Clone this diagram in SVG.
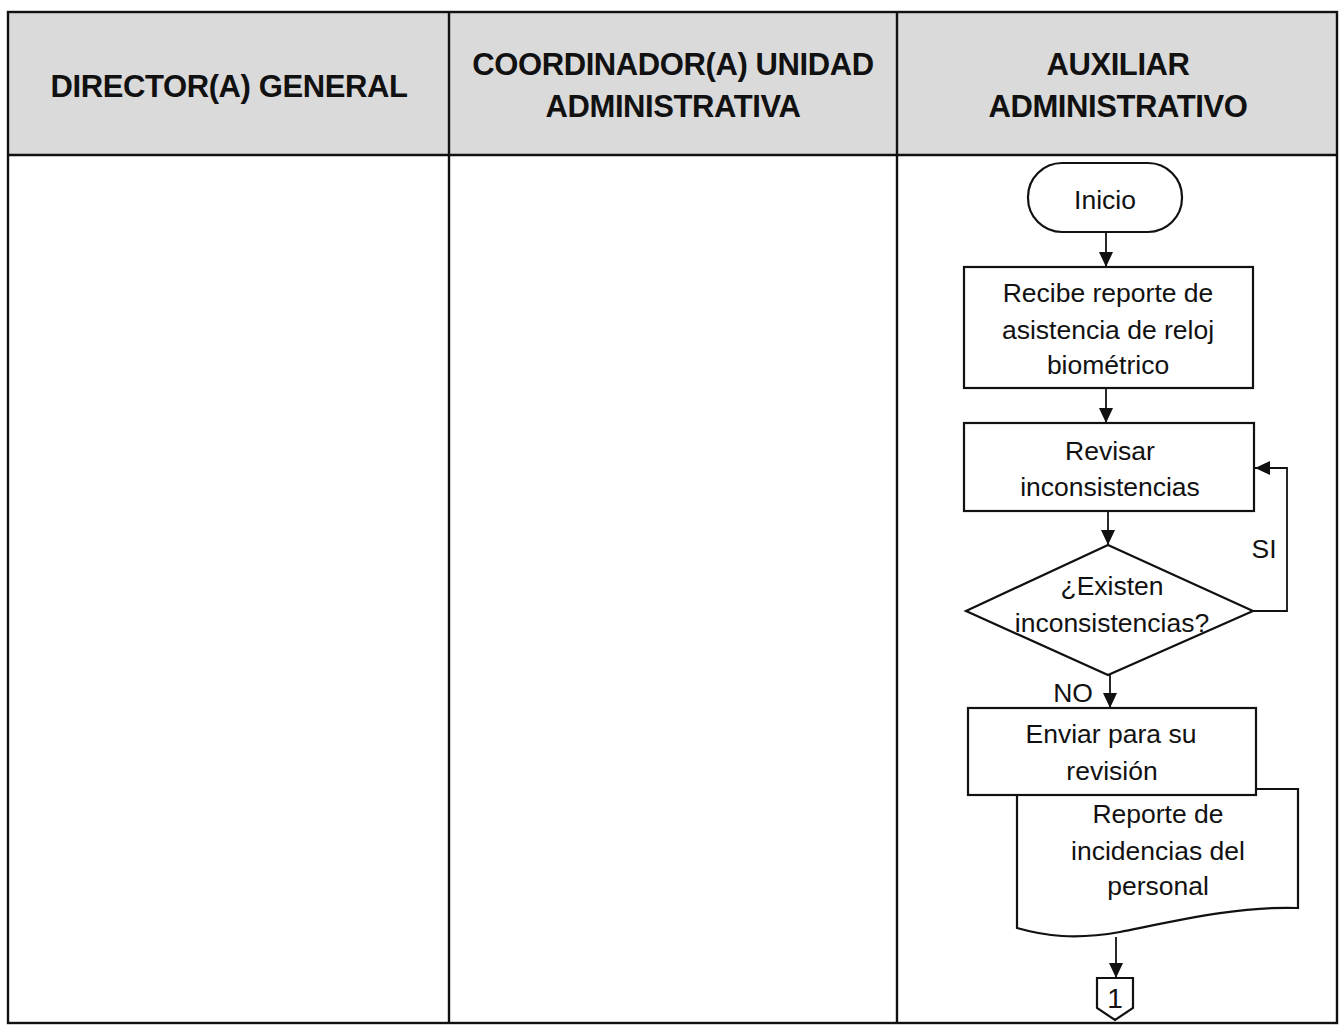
<svg xmlns="http://www.w3.org/2000/svg" width="1344" height="1025" viewBox="0 0 1344 1025">
<style>
.hd{font-family:"Liberation Sans",Arial,sans-serif;font-weight:bold;font-size:31px;letter-spacing:-0.4px;fill:#111;text-anchor:middle}
.t{font-family:"Liberation Sans",Arial,sans-serif;font-size:26.5px;fill:#111;text-anchor:middle}
.sh{fill:#fff;stroke:#111;stroke-width:2.2}
.ln{fill:none;stroke:#111;stroke-width:1.8}
.grid{fill:none;stroke:#111;stroke-width:2.4}
</style>
<defs>
<marker id="ah" markerUnits="userSpaceOnUse" markerWidth="16" markerHeight="16" refX="15" refY="7" orient="auto">
<path d="M0,0 L15,7 L0,14 Z" fill="#111"/>
</marker>
</defs>
<rect width="1344" height="1025" fill="#fff"/>
<g id="table">
<rect x="8" y="12" width="1329" height="143" fill="#dadada"/>
<rect x="8" y="12" width="1329" height="1011" class="grid"/>
<line x1="8" y1="155" x2="1337" y2="155" class="grid"/>
<line x1="449" y1="12" x2="449" y2="1023" class="grid"/>
<line x1="897" y1="12" x2="897" y2="1023" class="grid"/>
<text class="hd" x="229" y="97">DIRECTOR(A) GENERAL</text>
<text class="hd" x="673" y="75">COORDINADOR(A) UNIDAD</text>
<text class="hd" x="673" y="117">ADMINISTRATIVA</text>
<text class="hd" x="1118" y="75">AUXILIAR</text>
<text class="hd" x="1118" y="117">ADMINISTRATIVO</text>
</g>
<g id="connectors">
<line x1="1106" y1="232" x2="1106" y2="267" class="ln" marker-end="url(#ah)"/>
<line x1="1106" y1="388" x2="1106" y2="423" class="ln" marker-end="url(#ah)"/>
<line x1="1108" y1="511" x2="1108" y2="545" class="ln" marker-end="url(#ah)"/>
<polyline points="1253,611 1287,611 1287,468 1255,468" class="ln" marker-end="url(#ah)"/>
<line x1="1110" y1="675" x2="1110" y2="708" class="ln" marker-end="url(#ah)"/>
<line x1="1116" y1="937" x2="1116" y2="978" class="ln" marker-end="url(#ah)"/>
<text class="t" x="1264" y="558">SI</text>
<text class="t" x="1073" y="702">NO</text>
</g>
<g id="inicio">
<rect x="1028" y="163" width="154" height="69" rx="34" class="sh"/>
<text class="t" x="1105" y="209">Inicio</text>
</g>
<g id="recibe">
<rect x="964" y="267" width="289" height="121" class="sh"/>
<text class="t" x="1108" y="302">Recibe reporte de</text>
<text class="t" x="1108" y="339">asistencia de reloj</text>
<text class="t" x="1108" y="374">biométrico</text>
</g>
<g id="revisar">
<rect x="964" y="423" width="290" height="88" class="sh"/>
<text class="t" x="1110" y="460">Revisar</text>
<text class="t" x="1110" y="496">inconsistencias</text>
</g>
<g id="existen">
<polygon points="1108,545 1253,611 1108,675 966,611" class="sh"/>
<text class="t" x="1112" y="595">¿Existen</text>
<text class="t" x="1112" y="632">inconsistencias?</text>
</g>
<g id="reporte">
<path d="M1017,789 H1298 V908 C1240,906 1180,920 1120,932 C1075,940 1045,936 1017,928 Z" class="sh"/>
<text class="t" x="1158" y="823">Reporte de</text>
<text class="t" x="1158" y="860">incidencias del</text>
<text class="t" x="1158" y="895">personal</text>
</g>
<g id="enviar">
<rect x="968" y="708" width="288" height="87" class="sh"/>
<text class="t" x="1111" y="743">Enviar para su</text>
<text class="t" x="1112" y="780">revisión</text>
</g>
<g id="conector1">
<path d="M1097,978 H1133 V1008 L1115,1020 L1097,1008 Z" class="sh"/>
<text class="t" x="1115" y="1008" style="font-size:28px">1</text>
</g>
</svg>
